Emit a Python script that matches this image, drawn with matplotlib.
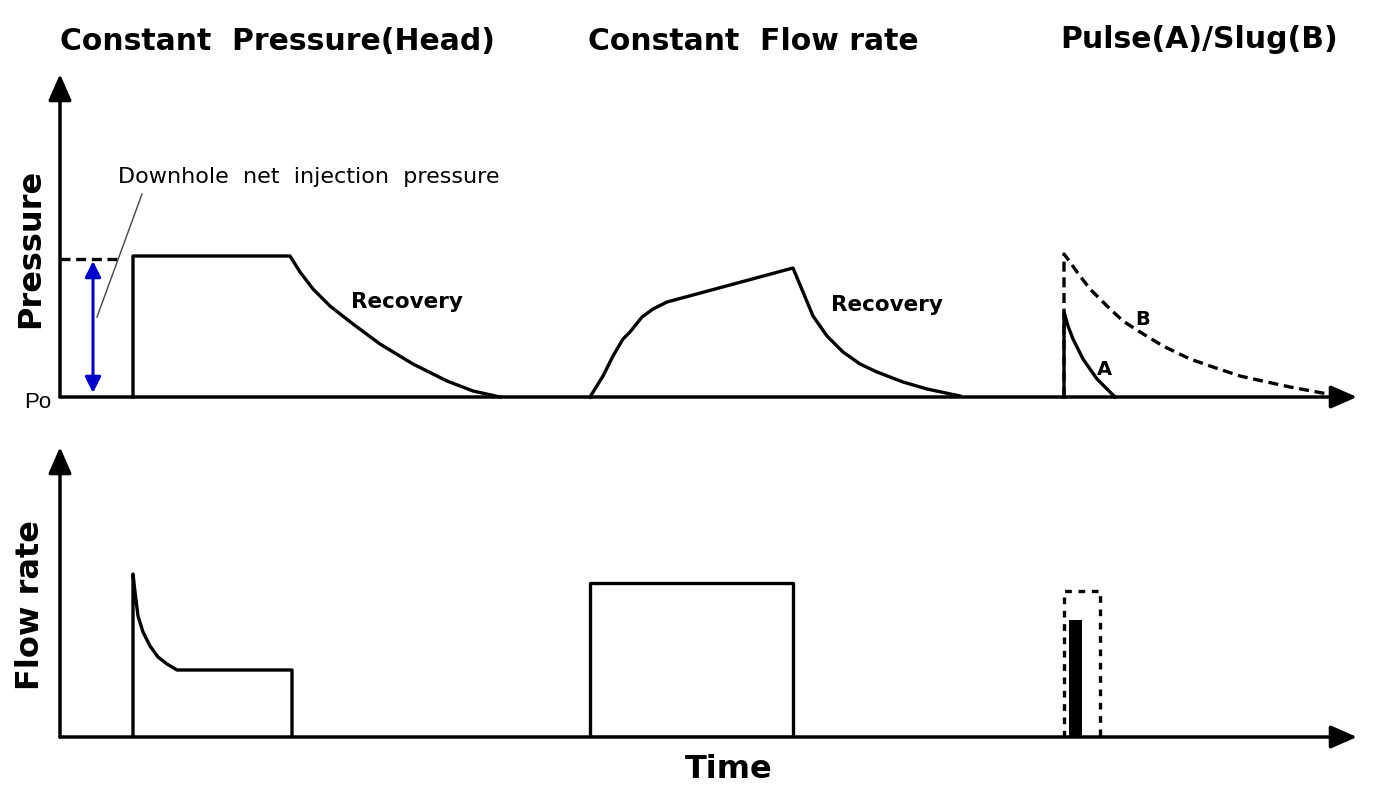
import matplotlib.pyplot as plt
import numpy as np

# time / value points (arbitrary units)
# upper panel: pressure
cp_t = [73, 73, 230, 240, 253, 270, 293, 320, 353, 387, 413, 440]
cp_p = [0, 141, 141, 125, 108, 91, 73, 53, 33, 16, 6, 0]
cf_t = [530, 543, 553, 563, 570, 582, 593, 607, 733, 743, 753, 767, 783, 800, 817, 843, 867, 900]
cf_p = [0, 21, 41, 58, 65, 80, 88, 95, 129, 105, 81, 61, 45, 33, 25, 15, 8, 1]
pulse_t = [1004, 1004, 1008, 1013, 1023, 1037, 1047, 1055]
pulse_p = [0, 85, 71, 58, 38, 18, 8, 0]
slug_t = [1004, 1004, 1010, 1017, 1030, 1047, 1063, 1080, 1103, 1130, 1153, 1180, 1207, 1230, 1273]
slug_p = [0, 143, 135, 125, 108, 91, 76, 65, 51, 38, 30, 21, 15, 10, 2]
p_net = 138

# lower panel: flow rate
cpq_t = [73, 73, 75, 78, 83, 90, 98, 107, 117, 232, 232]
cpq_q = [0, 163, 145, 121, 105, 91, 80, 73, 67, 67, 0]
cfq_t = [530, 530, 733, 733, 530]
cfq_q = [0, 154, 154, 0, 0]
pulse_bar = (1009, 13, 117)    # left, width, height
slug_box_t = [1004, 1004, 1040, 1040]
slug_box_q = [0, 146, 146, 0]

W, H = 1391, 812
fig = plt.figure(figsize=(W / 100, H / 100), dpi=100)
plt.rcParams['font.family'] = ['DejaVu Sans']

def make_ax(base_px, top_len):
    ax = fig.add_axes([60 / W, (H - base_px) / H, 1300 / W, 330 / H])
    ax.set_xlim(0, 1300)
    ax.set_ylim(0, 330)
    ax.axis('off')
    arr = dict(arrowstyle='-|>,head_length=0.8,head_width=0.35', lw=2.5, color='black',
               shrinkA=0, shrinkB=0, mutation_scale=20)
    ax.annotate('', xy=(1297, 0), xytext=(0, 0), arrowprops=arr, annotation_clip=False)
    ax.annotate('', xy=(0, top_len), xytext=(0, 0), arrowprops=arr, annotation_clip=False)
    return ax

lw = 2.4
ax1 = make_ax(398, 323)
ax1.plot(cp_t, cp_p, 'k', lw=lw, clip_on=False, solid_joinstyle='round')
ax1.plot(cf_t, cf_p, 'k', lw=lw, clip_on=False, solid_joinstyle='round')
ax1.plot(pulse_t, pulse_p, 'k', lw=lw, clip_on=False, solid_joinstyle='round')
ax1.plot(slug_t, slug_p, 'k', lw=lw, ls=(0, (3, 1.7)), clip_on=False)
ax1.plot([0, 60], [p_net, p_net], 'k', lw=lw, ls=(0, (3, 1.7)))
ax1.annotate('', xy=(33, 4), xytext=(33, p_net - 2),
             arrowprops=dict(arrowstyle='<|-|>,head_length=0.6,head_width=0.3', color='#0000cc',
                             lw=2.2, shrinkA=0, shrinkB=0, mutation_scale=16))
ax1.plot([37, 82], [80, 203], color='#444444', lw=1)
ax1.text(291, 96, 'Recovery', fontsize=15.5, fontweight='bold', ha='left', va='center')
ax1.text(771, 93, 'Recovery', fontsize=15.5, fontweight='bold', ha='left', va='center')
ax1.text(1083, 78, 'B', fontsize=14, fontweight='bold', ha='center', va='center')
ax1.text(1044, 28, 'A', fontsize=14, fontweight='bold', ha='center', va='center')

ax2 = make_ax(738, 290)
ax2.plot(cpq_t, cpq_q, 'k', lw=lw, solid_joinstyle='round')
ax2.plot(cfq_t, cfq_q, 'k', lw=lw)
ax2.bar(pulse_bar[0], pulse_bar[2], width=pulse_bar[1], align='edge', color='black')
ax2.plot(slug_box_t, slug_box_q, 'k', lw=lw, ls=(0, (2, 2)))

def ftext(x, y, s, **kw):
    fig.text(x / W, 1 - y / H, s, **kw)

ftext(60, 42, 'Constant  Pressure(Head)', fontsize=21.5, fontweight='bold', va='center')
ftext(588, 42, 'Constant  Flow rate', fontsize=21.5, fontweight='bold', va='center')
ftext(1060, 40, 'Pulse(A)/Slug(B)', fontsize=21.5, fontweight='bold', va='center')
ftext(118, 177, 'Downhole  net  injection  pressure', fontsize=16, va='center')
ftext(31, 248, 'Pressure', fontsize=23, fontweight='bold', rotation=90, ha='center', va='center')
ftext(31, 605, 'Flow rate', fontsize=23, fontweight='bold', rotation=90, ha='center', va='center')
ftext(38, 403, 'Po', fontsize=16, family='Liberation Sans', ha='center', va='center')
ftext(729, 770, 'Time', fontsize=23, fontweight='bold', ha='center', va='center')

fig.savefig('out.png', dpi=100, facecolor='white')
